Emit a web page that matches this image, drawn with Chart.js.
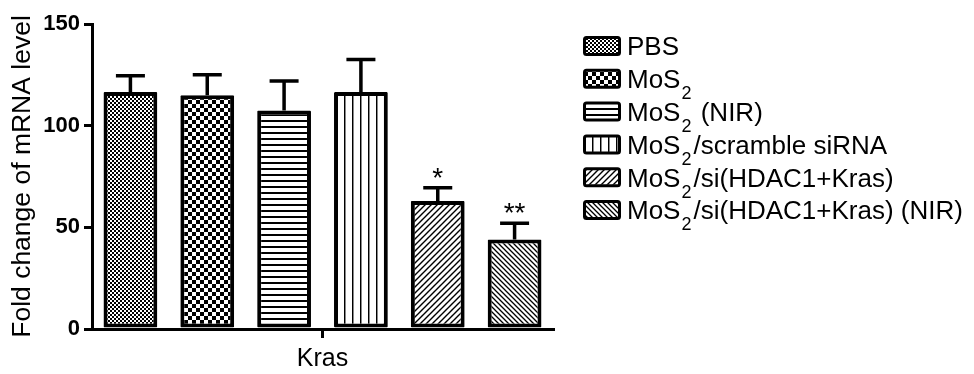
<!DOCTYPE html>
<html>
<head>
<meta charset="utf-8">
<script src="https://cdn.jsdelivr.net/npm/chart.js@4"></script>
<style>
  html, body { margin: 0; padding: 0; background: #fff; }
  #wrap { width: 974px; height: 374px; position: relative; }
</style>
</head>
<body>
<div id="wrap"><canvas id="c" width="974" height="374"></canvas></div>
<script>
// Gene on the x axis
const categories = ['Kras'];
// Treatment groups (one bar each)
const groups = ['PBS', 'MoS₂', 'MoS₂ (NIR)', 'MoS₂ /scramble siRNA', 'MoS₂ /si(HDAC1+Kras)', 'MoS₂ /si(HDAC1+Kras) (NIR)'];
// Legend text split as [normal, subscript, normal]
const legendLabels = [
  ['PBS'],
  ['MoS', '2', ''],
  ['MoS', '2', ' (NIR)'],
  ['MoS', '2', '/scramble siRNA'],
  ['MoS', '2', '/si(HDAC1+Kras)'],
  ['MoS', '2', '/si(HDAC1+Kras) (NIR)']
];
// Mean fold change and upper error (SD)
const means = [116.5, 115, 107.5, 116.5, 63, 44];
const errors = [8, 10, 14.5, 16, 6.5, 8];
// Significance marks above bars
const marks = ['', '', '', '', '*', '**'];
// y axis ticks
const yTicks = [0, 50, 100, 150];

const FONT = "'Liberation Sans', Arial, Helvetica, sans-serif";
const canvas = document.getElementById('c');
const ctx = canvas.getContext('2d');

function makeTile(w, h, draw) {
  const t = document.createElement('canvas');
  t.width = w; t.height = h;
  const g = t.getContext('2d');
  g.fillStyle = '#fff'; g.fillRect(0, 0, w, h);
  g.fillStyle = '#000'; g.strokeStyle = '#000';
  draw(g, w, h);
  return ctx.createPattern(t, 'repeat');
}
function diag(g, s, forward, lw) {
  g.lineWidth = lw;
  g.beginPath();
  if (forward) {
    g.moveTo(0, s); g.lineTo(s, 0);
    g.moveTo(-1, 1); g.lineTo(1, -1);
    g.moveTo(s - 1, s + 1); g.lineTo(s + 1, s - 1);
  } else {
    g.moveTo(0, 0); g.lineTo(s, s);
    g.moveTo(-1, s - 1); g.lineTo(1, s + 1);
    g.moveTo(s - 1, -1); g.lineTo(s + 1, 1);
  }
  g.stroke();
}

const fills = [
  makeTile(4, 4, g => { g.fillRect(0, 0, 2, 2); g.fillRect(2, 2, 2, 2); }),
  makeTile(8, 8, g => { g.fillRect(0, 0, 4, 4); g.fillRect(4, 4, 4, 4); }),
  makeTile(1, 6, g => { g.fillRect(0, 0, 1, 2); }),
  makeTile(8, 1, g => { g.fillRect(0, 0, 1, 1); g.fillStyle = '#888'; g.fillRect(1, 0, 1, 1); }),
  makeTile(6, 6, (g, w) => diag(g, w, true, 1.4)),
  makeTile(5, 5, (g, w) => diag(g, w, false, 1.3))
];

// Error bars and significance marks, positioned through the y scale
const errorBars = {
  id: 'errorBars',
  afterDatasetsDraw(chart) {
    const y = chart.scales.y;
    const c = chart.ctx;
    c.save();
    c.strokeStyle = '#000';
    c.fillStyle = '#000';
    c.lineWidth = 3.5;
    chart.data.datasets.forEach((ds, i) => {
      const bar = chart.getDatasetMeta(i).data[0];
      const x = bar.x;
      const top = y.getPixelForValue(means[i]);
      const hi = y.getPixelForValue(means[i] + errors[i]);
      c.beginPath();
      c.moveTo(x, top); c.lineTo(x, hi);
      c.moveTo(x - 14.5, hi); c.lineTo(x + 14.5, hi);
      c.stroke();
      if (marks[i]) {
        c.font = '28px ' + FONT;
        c.textAlign = 'center';
        c.textBaseline = 'alphabetic';
        c.fillText(marks[i], x, hi - 1);
      }
    });
    c.restore();
  }
};

// Legend with subscripted chemical formula
const subLegend = {
  id: 'subLegend',
  afterDraw(chart) {
    const c = chart.ctx;
    c.save();
    legendLabels.forEach((parts, i) => {
      const yc = 46 + 32.8 * i;
      // swatch
      c.fillStyle = fills[i];
      c.fillRect(585, yc - 7.5, 34, 15);
      c.strokeStyle = '#000';
      c.lineWidth = 3;
      c.beginPath();
      if (c.roundRect) c.roundRect(584.5, yc - 8.5, 35, 17, 2); else c.rect(584.5, yc - 8.5, 35, 17);
      c.stroke();
      // text
      c.fillStyle = '#000';
      c.textAlign = 'left';
      c.textBaseline = 'alphabetic';
      const base = yc + 9.3;
      let x = 627;
      c.font = '26px ' + FONT;
      c.fillText(parts[0], x, base);
      x += c.measureText(parts[0]).width;
      if (parts.length > 1) {
        c.font = '18px ' + FONT;
        c.fillText(parts[1], x + 1, base + 11);
        x += c.measureText(parts[1]).width + 3;
        c.font = '26px ' + FONT;
        c.fillText(parts[2], x, base);
      }
    });
    c.restore();
  }
};

new Chart(ctx, {
  type: 'bar',
  data: {
    labels: categories,
    datasets: groups.map((g, i) => ({
      label: g,
      data: [means[i]],
      backgroundColor: fills[i],
      borderColor: '#000',
      borderWidth: 4,
      borderSkipped: false,
      borderRadius: 1,
      barPercentage: 0.7,
      categoryPercentage: 1
    }))
  },
  options: {
    responsive: false,
    animation: false,
    devicePixelRatio: 1,
    layout: { padding: { top: 24, right: 421, bottom: 0, left: 0 } },
    plugins: { legend: { display: false }, tooltip: { enabled: false } },
    scales: {
      x: {
        grid: { display: true, drawOnChartArea: false, offset: false, color: '#000', lineWidth: 3, tickLength: 9 },
        border: { color: '#000', width: 3 },
        ticks: { color: '#000', font: { family: FONT, size: 25 }, padding: 6 },
        afterFit(s) { s.height = 45; }
      },
      y: {
        min: 0,
        max: 150,
        afterBuildTicks(s) { s.ticks = yTicks.map(v => ({ value: v })); },
        grid: { drawOnChartArea: false, color: '#000', lineWidth: 3, tickLength: 8 },
        border: { color: '#000', width: 3 },
        ticks: { color: '#000', font: { family: FONT, size: 22, weight: 'bold' }, padding: 4 },
        title: {
          display: true,
          text: 'Fold change of mRNA level',
          color: '#000',
          font: { family: FONT, size: 26.5 },
          padding: { top: 7, bottom: 0 }
        },
        afterFit(s) { s.width = 92; }
      }
    }
  },
  plugins: [errorBars, subLegend]
});
</script>
</body>
</html>
